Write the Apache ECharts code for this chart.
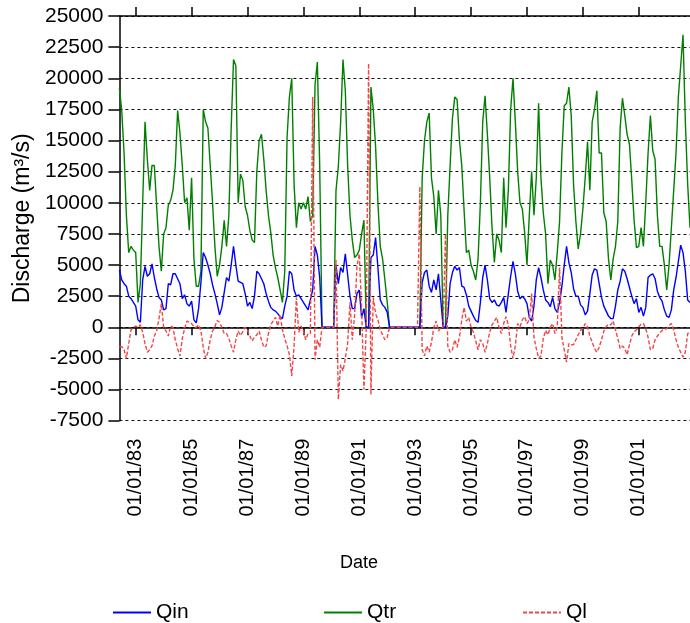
<!DOCTYPE html>
<html>
<head>
<meta charset="utf-8">
<script src="https://cdn.jsdelivr.net/npm/echarts@6/dist/echarts.min.js"></script>
<style>
  html, body { margin: 0; padding: 0; background: #fff; }
  #chart { width: 690px; height: 623px; }
</style>
</head>
<body>
<div id="chart"></div>
<script>
// monthly readings, Jun 1982 .. Nov 2002 (m3/s)
const START_YEAR = 1982
const START_MONTH = 6

const tickLabels = ['01/01/83', '01/01/85', '01/01/87', '01/01/89', '01/01/91',
  '01/01/93', '01/01/95', '01/01/97', '01/01/99', '01/01/01']

const qin = [
  4600, 3800, 3500, 3300, 2500, 2300, 2000,
  1700, 600, 400, 3800, 4900, 4100, 4300, 5100, 4000, 3100, 2400, 2200,
  1400, 1500, 3500, 3400, 4300, 4300, 3900, 3500, 2300, 2600, 1900, 1700,
  2100, 600, 350, 1500, 3600, 6000, 5600, 5000, 4300, 3400, 2700, 1900,
  1000, 1600, 2800, 4000, 3700, 5000, 6500, 5000, 3700, 3600, 3500, 2700,
  1700, 2000, 1500, 2500, 4500, 4300, 3900, 3500, 2700, 2100, 1600, 1400,
  1300, 1100, 850, 700, 1700, 2500, 4500, 4300, 3000, 2500, 2600, 2300,
  2000, 1700, 1400, 2200, 3000, 6500, 5800, 4000, 0, 0, 0, 0,
  0, 0, 5000, 3500, 4800, 4400, 5900, 4200, 2500, 1500, 1500, 2700,
  3000, 800, 1500, 0, 0, 5600, 5800, 7200, 4800, 2200, 1800, 1600,
  1200, 0, 0, 0, 0, 0, 0, 0, 0, 0, 0, 0,
  0, 0, 0, 3600, 4400, 4600, 3300, 2800, 3800, 3000, 4300, 2200,
  0, 0, 900, 3500, 4400, 4900, 4600, 4800, 3300, 3200, 2600, 1700,
  1300, 900, 550, 400, 2000, 4000, 5000, 3800, 2300, 2000, 2200, 1800,
  1700, 2000, 2400, 1200, 2700, 4100, 5300, 4300, 2900, 2300, 2500, 2300,
  1900, 800, 500, 1700, 3800, 4800, 4000, 3000, 2200, 2000, 1650, 2400,
  1500, 1200, 2000, 3300, 5000, 6500, 5200, 4400, 3100, 2500, 2500, 1800,
  1600, 1000, 1300, 2700, 4200, 4700, 4600, 3500, 2400, 1700, 1300, 900,
  700, 700, 1700, 3000, 3700, 4700, 4500, 3900, 3200, 2500, 1900, 2300,
  1200, 1600, 900, 1600, 4000, 4200, 4300, 3900, 2900, 2400, 2100, 1400,
  900, 800, 1400, 3000, 4000, 5300, 6600, 6000, 4500, 2200, 2000
]

const qtr = [
  19200, 17400, 14000, 9000, 6000, 6500, 6200,
  6000, 2000, 3500, 10000, 16500, 13500, 11000, 13000, 13000, 9700, 6500, 4500,
  7500, 8000, 9800, 10200, 11000, 13000, 17400, 15600, 13000, 10000, 10400, 7800,
  12000, 5500, 3300, 3300, 4500, 17500, 16500, 16000, 13000, 10000, 6500, 4100,
  5000, 6500, 8600, 6500, 9000, 16000, 21500, 21000, 10000, 12300, 11800, 9700,
  9000, 7800, 7000, 6800, 12500, 15000, 15500, 13500, 11000, 9000, 7600, 5800,
  4800, 4000, 3000, 2000, 4500, 15300, 18500, 20000, 11500, 8000, 10000, 9500,
  10000, 9500, 10500, 8500, 9000, 19500, 21300, 13000, 0, 0, 0, 0,
  0, 0, 11000, 12900, 16500, 21500, 19000, 13000, 9000, 7000, 5600, 5800,
  6200, 7500, 8600, 0, 0, 19300, 17500, 14500, 10000, 6500, 5500, 3800,
  2000, 0, 0, 0, 0, 0, 0, 0, 0, 0, 0, 0,
  0, 0, 0, 12000, 15000, 16500, 17200, 12000, 10500, 7500, 11000, 9000,
  0, 0, 9000, 13000, 16800, 18500, 18300, 15000, 13000, 9400, 6000, 6200,
  5000, 4500, 3800, 5500, 10000, 16500, 18600, 15500, 12000, 8000, 5200, 7500,
  7000, 6000, 12000, 8000, 11000, 17500, 20000, 16500, 12500, 10000, 9500, 7600,
  5000, 9000, 12500, 9000, 12000, 18000, 12000, 9200, 7500, 3500, 5400, 5000,
  3800, 6000, 8500, 14000, 17800, 18000, 19300, 17000, 11500, 8500, 6300, 7500,
  9500, 12000, 14900, 11000, 16500, 17500, 19000, 14000, 14000, 9200, 8500, 5500,
  3800, 5500, 6500, 8500, 16000, 18400, 17000, 15500, 14700, 11800, 8600, 6400,
  6500, 8000, 6500, 10000, 14000, 17000, 14200, 13500, 9000, 6500, 6500, 5000,
  3000, 5000, 8000, 11000, 14000, 18500, 21000, 23500, 16500, 11500, 8000
]

const ql = [
  -1560, -1560, -1800, -2500, -1300, -200, 0,
  100, 0, 200, -400, -1300, -2000, -1800, -1500, -700, -300, 700, 1900,
  0, -300, -700, 100, 0, -1000, -1700, -2300, -900, -100, 500, 400,
  300, 50, 0, 200, -300, -1600, -2500, -2000, -1000, -300, 50, 550,
  400, 0, -500, -500, -900, -1500, -2000, -1000, -300, -650, -350, 0,
  -200, -700, -1100, -800, -600, -300, -1000, -1600, -1500, -500, 200, 500,
  800, 100, 1000, -200, -900, -1500, -2200, -3900, -1500, 2400, -400, 100,
  -300, -1000, -500, -500, 18500, -2600, -1000, -1600, 0, 0, 0, 0,
  0, 0, 5400, -5800, -3000, -3500, -2500, -1300, 2000, -1000, 1000, 4900,
  5900, 1500, -5000, 0, 21200, -5400, 2400, 1100, 600, -200, -600, -1000,
  -800, 0, 0, 0, 0, 0, 0, 0, 0, 0, 0, 0,
  0, 0, 11300, -1800, -2300, -1500, -2000, -1200, 0, 500, -300, 0,
  0, 7500, -1500, -2000, -1800, -1000, -1600, -800, 600, 1600, 500, 800,
  0, -400, -1100, -1800, -1000, -1300, -2000, -1300, -400, 200, 500, 800,
  0, -500, 300, 850, 200, -1500, -2500, -1500, 300, 50, 600, 850,
  300, 600, 2700, -800, -1700, -2500, -2300, -900, -250, -600, 0, 300,
  -500, 0, 4800, -800, -1800, -2800, -1300, -1400, -1400, -1000, -600, -250,
  -100, 300, 50, -700, -1200, -1700, -2000, -1600, -1000, -300, 50, 250,
  200, 500, -200, -900, -1700, -1500, -1700, -2200, -1400, -700, -350, -200,
  50, 250, 300, -100, -800, -1800, -1700, -1000, -700, -450, -250, -200,
  -100, 150, 300, -200, -1000, -1600, -2000, -2400, -2000, -500, -400
]

// one category per month, labelled dd/mm/yy
const months = []
for (let i = 0; i < qtr.length; i++) {
  const m = START_MONTH - 1 + i
  const yy = String((START_YEAR + Math.floor(m / 12)) % 100).padStart(2, '0')
  const mm = String(m % 12 + 1).padStart(2, '0')
  months.push('01/' + mm + '/' + yy)
}

const isTick = (idx, value) => tickLabels.includes(value)
const FONT = 'Liberation Sans, Arial, sans-serif'

const chart = echarts.init(document.getElementById('chart'))

const legendBase = {
  top: 597,
  itemWidth: 38,
  itemHeight: 14,
  itemGap: 6,
  itemStyle: { opacity: 0 },
  textStyle: { fontFamily: FONT, fontSize: 21, color: '#000' }
}

chart.setOption({
  animation: false,
  backgroundColor: '#fff',
  grid: { left: 119.4, right: 0, top: 16, bottom: 202.3 },
  legend: [
    { ...legendBase, left: 107, data: ['Qin'] },
    { ...legendBase, left: 318, data: ['Qtr'] },
    { ...legendBase, left: 517, data: ['Ql'] }
  ],
  graphic: [{
    type: 'text',
    left: 340,
    top: 554,
    style: { text: 'Date', font: '18px ' + FONT, fill: '#000' }
  }],
  xAxis: [
    {
      type: 'category',
      data: months,
      boundaryGap: false,
      axisLine: { lineStyle: { color: '#000', width: 1.5 } },
      axisTick: { interval: isTick, length: 8, lineStyle: { color: '#000', width: 1.5 } },
      axisLabel: {
        interval: isTick,
        rotate: 90,
        margin: 18,
        fontFamily: FONT,
        fontSize: 20,
        color: '#000'
      },
      splitLine: { show: false }
    },
    {
      type: 'category',
      data: months,
      position: 'top',
      boundaryGap: false,
      axisLine: { lineStyle: { color: '#000', width: 1.5 } },
      axisTick: { interval: isTick, length: 9, lineStyle: { color: '#000', width: 1.5 } },
      axisLabel: { show: false },
      splitLine: { show: false }
    }
  ],
  yAxis: {
    type: 'value',
    min: -7500,
    max: 25000,
    interval: 2500,
    name: 'Discharge (m³/s)',
    nameLocation: 'middle',
    nameGap: 78,
    nameTextStyle: { fontFamily: FONT, fontSize: 23, color: '#000' },
    axisLine: { show: true, lineStyle: { color: '#000', width: 1.5 } },
    axisTick: { show: true, length: 11, lineStyle: { color: '#000', width: 1.5 } },
    axisLabel: {
      margin: 16,
      fontFamily: FONT,
      fontSize: 21,
      color: '#000',
      formatter: v => String(v)
    },
    splitLine: { lineStyle: { color: '#111', width: 1, type: [3, 3] } }
  },
  series: [
    {
      name: 'Qtr',
      type: 'line',
      data: qtr,
      symbol: 'none',
      color: '#008000',
      lineStyle: { width: 1.4, color: '#008000' },
      z: 2
    },
    {
      name: 'Qin',
      type: 'line',
      data: qin,
      symbol: 'none',
      color: '#0000ff',
      lineStyle: { width: 1.4, color: '#0000ff' },
      z: 3
    },
    {
      name: 'Ql',
      type: 'line',
      data: ql,
      symbol: 'none',
      color: '#f04848',
      lineStyle: { width: 1.4, color: '#f04848', type: [4, 2] },
      z: 4
    }
  ]
})
</script>
</body>
</html>
